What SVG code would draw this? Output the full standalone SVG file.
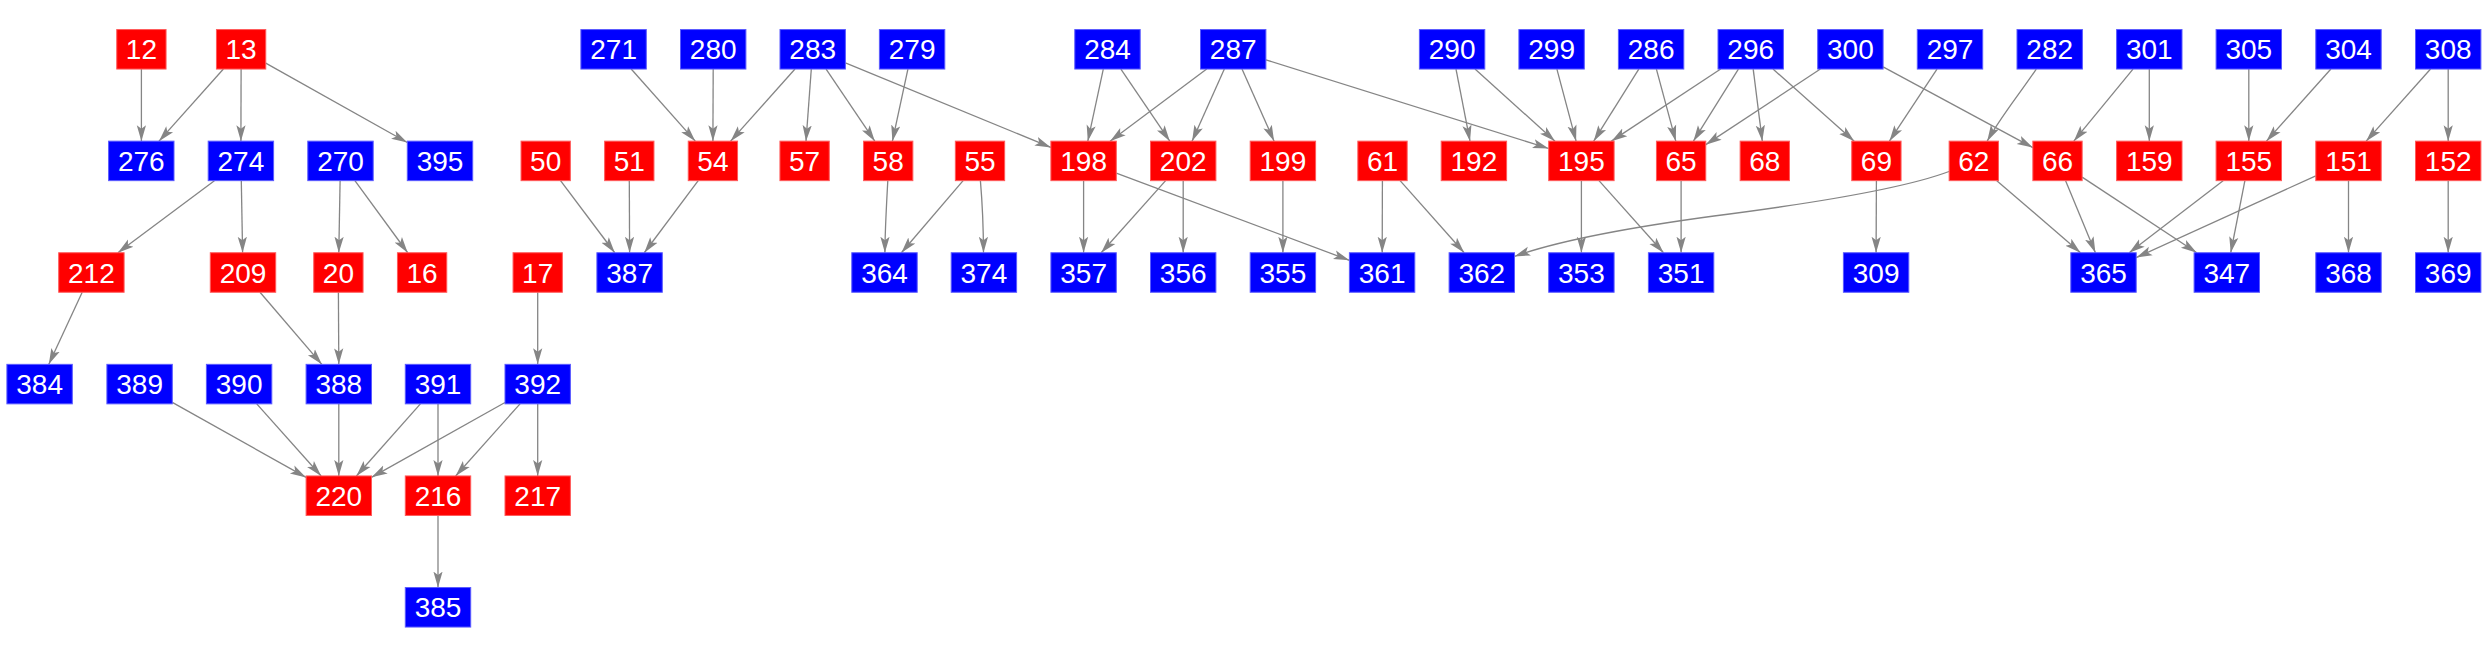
<svg xmlns="http://www.w3.org/2000/svg" width="2488" height="656" viewBox="0 0 2488 656">
<style>
.r{fill:#ff0000;stroke:#ff5a5a;stroke-width:1}
.b{fill:#0000ff;stroke:#5a5aff;stroke-width:1}
text{font-family:"Liberation Sans",Arial,sans-serif;font-size:28px;fill:#ffffff;text-anchor:middle}
#edges path{fill:none;stroke:#858585;stroke-width:1.3;marker-end:url(#a)}
</style>
<defs>
<marker id="a" markerWidth="18" markerHeight="12" refX="16" refY="6" orient="auto" markerUnits="userSpaceOnUse">
<path d="M0,1.4 L16,6 L0,10.6 L3.5,6 Z" fill="#858585"/>
</marker>
</defs>
<rect width="2488" height="656" fill="#ffffff"/>
<g id="edges">
<path d="M141.4,69.05 L141.4,141.15"/>
<path d="M223.4,69.05 L159,141.15"/>
<path d="M241.1,69.05 L240.9,141.15"/>
<path d="M265.75,63.1 L407.3,142.55"/>
<path d="M214.4,180.65 L117.9,252.75"/>
<path d="M241.3,180.65 L242.6,252.75"/>
<path d="M340.1,180.65 L338.8,252.75"/>
<path d="M354.9,180.65 L407.7,252.75"/>
<path d="M82.2,292.25 L48.8,364.35"/>
<path d="M260,292.25 L321.8,364.35"/>
<path d="M338.4,292.25 L338.8,364.35"/>
<path d="M537.7,292.25 L537.7,364.35"/>
<path d="M172.3,402.4 L306.1,477.4"/>
<path d="M256.75,403.85 L321.15,475.95"/>
<path d="M338.8,403.85 L338.8,475.95"/>
<path d="M420.4,403.85 L356.4,475.95"/>
<path d="M438,403.85 L438,475.95"/>
<path d="M505,402.45 L371.5,477.35"/>
<path d="M520.05,403.85 L455.65,475.95"/>
<path d="M537.7,403.85 L537.7,475.95"/>
<path d="M438,515.45 L438,587.55"/>
<path d="M631.2,69.05 L695.3,141.15"/>
<path d="M713.2,69.05 L712.9,141.15"/>
<path d="M795,69.05 L730.6,141.15"/>
<path d="M811.3,69.05 L806,141.15"/>
<path d="M826.1,69.05 L874.8,141.15"/>
<path d="M845.4,62.8 L1050.9,147.4"/>
<path d="M907.9,69.05 L892.4,141.15"/>
<path d="M560.55,180.65 L614.75,252.75"/>
<path d="M629.3,180.65 L629.6,252.75"/>
<path d="M698.2,180.65 L644.3,252.75"/>
<path d="M887.8,180.65 C886.5,205 885,230 884.9,252.75"/>
<path d="M963.1,180.65 L901.4,252.75"/>
<path d="M980.4,180.65 C982.5,205 983.4,230 983.5,252.75"/>
<path d="M1103.3,69.05 L1087.8,141.15"/>
<path d="M1120.9,69.05 L1169.8,141.15"/>
<path d="M1206.7,69.05 L1110.1,141.15"/>
<path d="M1224.35,69.05 L1192.05,141.15"/>
<path d="M1242,69.05 L1274.1,141.15"/>
<path d="M1265.9,59.8 L1548.7,148.5"/>
<path d="M1456,69.05 L1470,141.15"/>
<path d="M1475,69.05 L1555,141.15"/>
<path d="M1556.9,69.05 L1576.1,141.15"/>
<path d="M1083.6,180.65 L1083.6,252.75"/>
<path d="M1116.3,173.1 L1349.4,260.3"/>
<path d="M1165.6,180.65 L1101.2,252.75"/>
<path d="M1183.2,180.65 L1183.2,252.75"/>
<path d="M1282.9,180.65 L1282.9,252.75"/>
<path d="M1382.4,180.65 L1382.2,252.75"/>
<path d="M1400.1,180.65 L1464.2,252.75"/>
<path d="M1638.8,69.05 L1593.7,141.15"/>
<path d="M1656.4,69.05 L1675.8,141.15"/>
<path d="M1720.7,69.05 L1611.4,141.15"/>
<path d="M1738.4,69.05 L1693.4,141.15"/>
<path d="M1753.2,69.05 L1762.3,141.15"/>
<path d="M1773,69.05 L1854.2,141.15"/>
<path d="M1820.4,69.05 L1705.75,144.65"/>
<path d="M1883.1,66.9 L2032.85,147.6"/>
<path d="M1937,69.05 L1889.4,141.15"/>
<path d="M2036.3,69.05 C2018,96 2000,118 1987.2,141.15"/>
<path d="M1949,171.5 C1900,190 1800,205 1714,216 C1640,226 1560,240 1514.3,256.5"/>
<path d="M1996.8,180.65 L2080.5,252.75"/>
<path d="M1581.4,180.65 L1581.4,252.75"/>
<path d="M1599,180.65 L1663.5,252.75"/>
<path d="M1681.1,180.65 L1681.1,252.75"/>
<path d="M1876.4,180.65 L1876.1,252.75"/>
<path d="M2133,69.05 L2073.8,141.15"/>
<path d="M2149.3,69.05 L2149.3,141.15"/>
<path d="M2248.8,69.05 L2248.8,141.15"/>
<path d="M2330.9,69.05 L2266.45,141.15"/>
<path d="M2430.55,69.05 L2366.15,141.15"/>
<path d="M2448.2,69.05 L2448.2,141.15"/>
<path d="M2065.6,180.65 L2095.4,252.75"/>
<path d="M2082.15,177.15 L2196.8,252.75"/>
<path d="M2223.1,180.65 L2129.2,252.75"/>
<path d="M2244.9,180.65 L2230.7,252.75"/>
<path d="M2315.8,175.8 L2136.2,257.6"/>
<path d="M2348.5,180.65 L2348.5,252.75"/>
<path d="M2448.2,180.65 L2448.2,252.75"/>
</g>
<g id="n12"><rect class="r" x="116.75" y="29.55" width="49.3" height="39.5"/><text x="141.4" y="59.3">12</text></g>
<g id="n13"><rect class="r" x="216.45" y="29.55" width="49.3" height="39.5"/><text x="241.1" y="59.3">13</text></g>
<g id="n271"><rect class="b" x="580.9" y="29.55" width="65.4" height="39.5"/><text x="613.6" y="59.3">271</text></g>
<g id="n280"><rect class="b" x="680.5" y="29.55" width="65.4" height="39.5"/><text x="713.2" y="59.3">280</text></g>
<g id="n283"><rect class="b" x="780" y="29.55" width="65.4" height="39.5"/><text x="812.7" y="59.3">283</text></g>
<g id="n279"><rect class="b" x="879.4" y="29.55" width="65.4" height="39.5"/><text x="912.1" y="59.3">279</text></g>
<g id="n284"><rect class="b" x="1074.8" y="29.55" width="65.4" height="39.5"/><text x="1107.5" y="59.3">284</text></g>
<g id="n287"><rect class="b" x="1200.5" y="29.55" width="65.4" height="39.5"/><text x="1233.2" y="59.3">287</text></g>
<g id="n290"><rect class="b" x="1419.4" y="29.55" width="65.4" height="39.5"/><text x="1452.1" y="59.3">290</text></g>
<g id="n299"><rect class="b" x="1518.9" y="29.55" width="65.4" height="39.5"/><text x="1551.6" y="59.3">299</text></g>
<g id="n286"><rect class="b" x="1618.4" y="29.55" width="65.4" height="39.5"/><text x="1651.1" y="59.3">286</text></g>
<g id="n296"><rect class="b" x="1718" y="29.55" width="65.4" height="39.5"/><text x="1750.7" y="59.3">296</text></g>
<g id="n300"><rect class="b" x="1817.7" y="29.55" width="65.4" height="39.5"/><text x="1850.4" y="59.3">300</text></g>
<g id="n297"><rect class="b" x="1917.3" y="29.55" width="65.4" height="39.5"/><text x="1950" y="59.3">297</text></g>
<g id="n282"><rect class="b" x="2017" y="29.55" width="65.4" height="39.5"/><text x="2049.7" y="59.3">282</text></g>
<g id="n301"><rect class="b" x="2116.6" y="29.55" width="65.4" height="39.5"/><text x="2149.3" y="59.3">301</text></g>
<g id="n305"><rect class="b" x="2216.1" y="29.55" width="65.4" height="39.5"/><text x="2248.8" y="59.3">305</text></g>
<g id="n304"><rect class="b" x="2315.8" y="29.55" width="65.4" height="39.5"/><text x="2348.5" y="59.3">304</text></g>
<g id="n308"><rect class="b" x="2415.5" y="29.55" width="65.4" height="39.5"/><text x="2448.2" y="59.3">308</text></g>
<g id="n276"><rect class="b" x="108.6" y="141.15" width="65.4" height="39.5"/><text x="141.3" y="170.9">276</text></g>
<g id="n274"><rect class="b" x="208.2" y="141.15" width="65.4" height="39.5"/><text x="240.9" y="170.9">274</text></g>
<g id="n270"><rect class="b" x="307.8" y="141.15" width="65.4" height="39.5"/><text x="340.5" y="170.9">270</text></g>
<g id="n395"><rect class="b" x="407.3" y="141.15" width="65.4" height="39.5"/><text x="440" y="170.9">395</text></g>
<g id="n50"><rect class="r" x="521.05" y="141.15" width="49.3" height="39.5"/><text x="545.7" y="170.9">50</text></g>
<g id="n51"><rect class="r" x="604.65" y="141.15" width="49.3" height="39.5"/><text x="629.3" y="170.9">51</text></g>
<g id="n54"><rect class="r" x="688.25" y="141.15" width="49.3" height="39.5"/><text x="712.9" y="170.9">54</text></g>
<g id="n57"><rect class="r" x="779.95" y="141.15" width="49.3" height="39.5"/><text x="804.6" y="170.9">57</text></g>
<g id="n58"><rect class="r" x="863.55" y="141.15" width="49.3" height="39.5"/><text x="888.2" y="170.9">58</text></g>
<g id="n55"><rect class="r" x="955.35" y="141.15" width="49.3" height="39.5"/><text x="980" y="170.9">55</text></g>
<g id="n198"><rect class="r" x="1050.9" y="141.15" width="65.4" height="39.5"/><text x="1083.6" y="170.9">198</text></g>
<g id="n202"><rect class="r" x="1150.5" y="141.15" width="65.4" height="39.5"/><text x="1183.2" y="170.9">202</text></g>
<g id="n199"><rect class="r" x="1250.2" y="141.15" width="65.4" height="39.5"/><text x="1282.9" y="170.9">199</text></g>
<g id="n61"><rect class="r" x="1357.85" y="141.15" width="49.3" height="39.5"/><text x="1382.5" y="170.9">61</text></g>
<g id="n192"><rect class="r" x="1441.2" y="141.15" width="65.4" height="39.5"/><text x="1473.9" y="170.9">192</text></g>
<g id="n195"><rect class="r" x="1548.7" y="141.15" width="65.4" height="39.5"/><text x="1581.4" y="170.9">195</text></g>
<g id="n65"><rect class="r" x="1656.45" y="141.15" width="49.3" height="39.5"/><text x="1681.1" y="170.9">65</text></g>
<g id="n68"><rect class="r" x="1740.15" y="141.15" width="49.3" height="39.5"/><text x="1764.8" y="170.9">68</text></g>
<g id="n69"><rect class="r" x="1851.75" y="141.15" width="49.3" height="39.5"/><text x="1876.4" y="170.9">69</text></g>
<g id="n62"><rect class="r" x="1949.15" y="141.15" width="49.3" height="39.5"/><text x="1973.8" y="170.9">62</text></g>
<g id="n66"><rect class="r" x="2032.85" y="141.15" width="49.3" height="39.5"/><text x="2057.5" y="170.9">66</text></g>
<g id="n159"><rect class="r" x="2116.6" y="141.15" width="65.4" height="39.5"/><text x="2149.3" y="170.9">159</text></g>
<g id="n155"><rect class="r" x="2216.1" y="141.15" width="65.4" height="39.5"/><text x="2248.8" y="170.9">155</text></g>
<g id="n151"><rect class="r" x="2315.8" y="141.15" width="65.4" height="39.5"/><text x="2348.5" y="170.9">151</text></g>
<g id="n152"><rect class="r" x="2415.5" y="141.15" width="65.4" height="39.5"/><text x="2448.2" y="170.9">152</text></g>
<g id="n212"><rect class="r" x="58.7" y="252.75" width="65.4" height="39.5"/><text x="91.4" y="282.5">212</text></g>
<g id="n209"><rect class="r" x="210.3" y="252.75" width="65.4" height="39.5"/><text x="243" y="282.5">209</text></g>
<g id="n20"><rect class="r" x="313.75" y="252.75" width="49.3" height="39.5"/><text x="338.4" y="282.5">20</text></g>
<g id="n16"><rect class="r" x="397.45" y="252.75" width="49.3" height="39.5"/><text x="422.1" y="282.5">16</text></g>
<g id="n17"><rect class="r" x="513.05" y="252.75" width="49.3" height="39.5"/><text x="537.7" y="282.5">17</text></g>
<g id="n387"><rect class="b" x="596.9" y="252.75" width="65.4" height="39.5"/><text x="629.6" y="282.5">387</text></g>
<g id="n364"><rect class="b" x="851.8" y="252.75" width="65.4" height="39.5"/><text x="884.5" y="282.5">364</text></g>
<g id="n374"><rect class="b" x="951.2" y="252.75" width="65.4" height="39.5"/><text x="983.9" y="282.5">374</text></g>
<g id="n357"><rect class="b" x="1050.9" y="252.75" width="65.4" height="39.5"/><text x="1083.6" y="282.5">357</text></g>
<g id="n356"><rect class="b" x="1150.5" y="252.75" width="65.4" height="39.5"/><text x="1183.2" y="282.5">356</text></g>
<g id="n355"><rect class="b" x="1250.2" y="252.75" width="65.4" height="39.5"/><text x="1282.9" y="282.5">355</text></g>
<g id="n361"><rect class="b" x="1349.4" y="252.75" width="65.4" height="39.5"/><text x="1382.1" y="282.5">361</text></g>
<g id="n362"><rect class="b" x="1449.1" y="252.75" width="65.4" height="39.5"/><text x="1481.8" y="282.5">362</text></g>
<g id="n353"><rect class="b" x="1548.7" y="252.75" width="65.4" height="39.5"/><text x="1581.4" y="282.5">353</text></g>
<g id="n351"><rect class="b" x="1648.4" y="252.75" width="65.4" height="39.5"/><text x="1681.1" y="282.5">351</text></g>
<g id="n309"><rect class="b" x="1843.4" y="252.75" width="65.4" height="39.5"/><text x="1876.1" y="282.5">309</text></g>
<g id="n365"><rect class="b" x="2070.8" y="252.75" width="65.4" height="39.5"/><text x="2103.5" y="282.5">365</text></g>
<g id="n347"><rect class="b" x="2194.1" y="252.75" width="65.4" height="39.5"/><text x="2226.8" y="282.5">347</text></g>
<g id="n368"><rect class="b" x="2315.8" y="252.75" width="65.4" height="39.5"/><text x="2348.5" y="282.5">368</text></g>
<g id="n369"><rect class="b" x="2415.5" y="252.75" width="65.4" height="39.5"/><text x="2448.2" y="282.5">369</text></g>
<g id="n384"><rect class="b" x="6.9" y="364.35" width="65.4" height="39.5"/><text x="39.6" y="394.1">384</text></g>
<g id="n389"><rect class="b" x="106.9" y="364.35" width="65.4" height="39.5"/><text x="139.6" y="394.1">389</text></g>
<g id="n390"><rect class="b" x="206.4" y="364.35" width="65.4" height="39.5"/><text x="239.1" y="394.1">390</text></g>
<g id="n388"><rect class="b" x="306.1" y="364.35" width="65.4" height="39.5"/><text x="338.8" y="394.1">388</text></g>
<g id="n391"><rect class="b" x="405.3" y="364.35" width="65.4" height="39.5"/><text x="438" y="394.1">391</text></g>
<g id="n392"><rect class="b" x="505" y="364.35" width="65.4" height="39.5"/><text x="537.7" y="394.1">392</text></g>
<g id="n220"><rect class="r" x="306.1" y="475.95" width="65.4" height="39.5"/><text x="338.8" y="505.7">220</text></g>
<g id="n216"><rect class="r" x="405.3" y="475.95" width="65.4" height="39.5"/><text x="438" y="505.7">216</text></g>
<g id="n217"><rect class="r" x="505" y="475.95" width="65.4" height="39.5"/><text x="537.7" y="505.7">217</text></g>
<g id="n385"><rect class="b" x="405.3" y="587.55" width="65.4" height="39.5"/><text x="438" y="617.3">385</text></g>
</svg>
